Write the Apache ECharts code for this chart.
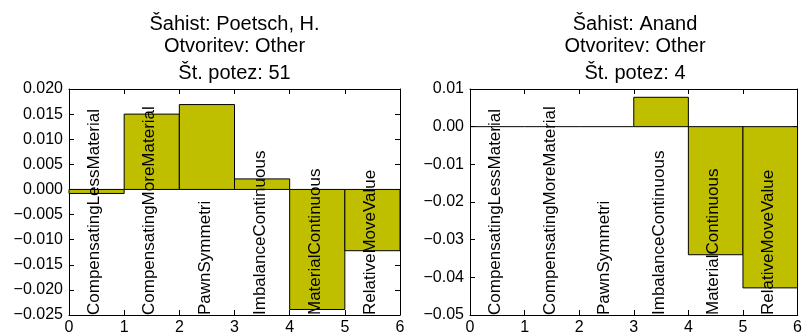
<!DOCTYPE html>
<html>
<head>
<meta charset="utf-8">
<script src="https://cdn.jsdelivr.net/npm/echarts@6/dist/echarts.min.js"></script>
<style>
  html, body { margin: 0; padding: 0; background: #fff; }
  #chart { width: 805px; height: 336px; }
</style>
</head>
<body>
<div id="chart"></div>
<script>
// Feature names, one bar per feature
const categories = [
  'CompensatingLessMaterial',
  'CompensatingMoreMaterial',
  'PawnSymmetri',
  'ImbalanceContinuous',
  'MaterialContinuous',
  'RelativeMoveValue'
];

// Per-feature values for each player
const poetschValues = [-0.0008, 0.0150, 0.0169, 0.0021, -0.0239, -0.0122];
const anandValues   = [0, 0, 0, 0.0078, -0.0340, -0.0428];

// Panel titles
const poetschTitle = ['Šahist: Poetsch, H.', 'Otvoritev: Other', 'Št. potez: 51'];
const anandTitle   = ['Šahist: Anand', 'Otvoritev: Other', 'Št. potez: 4'];

// Y axis ranges and tick steps
const poetschAxis = { min: -0.025, max: 0.020, step: 0.005, decimals: 3 };
const anandAxis   = { min: -0.05,  max: 0.01,  step: 0.01,  decimals: 2 };

const FONT = "'Liberation Sans', Arial, sans-serif";
const BAR_FILL = '#bfbf00';

const chart = echarts.init(document.getElementById('chart'), null, { renderer: 'canvas' });

const grids = [
  { left: 69,  top: 89, width: 331, height: 227 },
  { left: 470, top: 89, width: 330, height: 227 }
];

function fmt(v, d) {
  const s = Math.abs(v) < 1e-12 ? (0).toFixed(d) : v.toFixed(d);
  return s.replace('-', '\u2212');
}

function xAxes(gi) {
  const base = {
    type: 'value', gridIndex: gi, min: 0, max: 6, interval: 1,
    splitLine: { show: false },
    axisLine: { show: true, onZero: false, lineStyle: { color: '#000', width: 1 } },
    axisTick: { show: true, inside: true, length: 5, lineStyle: { color: '#000' } }
  };
  return [
    Object.assign({}, base, {
      position: 'bottom',
      axisLabel: { show: true, color: '#000', fontSize: 16, fontFamily: FONT, margin: 5 }
    }),
    Object.assign({}, base, { position: 'top', axisLabel: { show: false } })
  ];
}

function yAxes(gi, ax) {
  const base = {
    type: 'value', gridIndex: gi, min: ax.min, max: ax.max, interval: ax.step,
    splitLine: { show: false },
    axisLine: { show: true, onZero: false, lineStyle: { color: '#000', width: 1 } },
    axisTick: { show: true, inside: true, length: 5, lineStyle: { color: '#000' } }
  };
  return [
    Object.assign({}, base, {
      position: 'left',
      axisLabel: {
        show: true, color: '#000', fontSize: 16, fontFamily: FONT, margin: 6,
        formatter: v => fmt(v, ax.decimals)
      }
    }),
    Object.assign({}, base, { position: 'right', axisLabel: { show: false } })
  ];
}

function barSeries(gi, values) {
  return {
    type: 'custom',
    xAxisIndex: gi * 2, yAxisIndex: gi * 2,
    data: values.map((v, i) => [i, v]),
    renderItem: function (params, api) {
      const x0 = api.value(0);
      const v = api.value(1);
      const p0 = api.coord([x0, 0]);
      const p1 = api.coord([x0 + 1, v]);
      const y = Math.min(p0[1], p1[1]);
      const h = Math.abs(p1[1] - p0[1]);
      if (h < 0.5) {
        // zero-height bar: only its outline remains, a flat line on the baseline
        return {
          type: 'line',
          shape: { x1: p0[0], y1: p0[1], x2: p1[0], y2: p0[1] },
          style: { stroke: '#000', lineWidth: 1 }
        };
      }
      return {
        type: 'rect',
        shape: { x: p0[0], y: y, width: p1[0] - p0[0], height: h },
        style: { fill: BAR_FILL, stroke: '#000', lineWidth: 1 }
      };
    },
    z: 2
  };
}

function labelSeries(gi, ax) {
  return {
    type: 'custom',
    xAxisIndex: gi * 2, yAxisIndex: gi * 2,
    data: categories.map((c, i) => [i + 0.5, ax.min]),
    renderItem: function (params, api) {
      const p = api.coord([api.value(0), api.value(1)]);
      return {
        type: 'text',
        x: p[0] - 2,
        y: p[1],
        rotation: Math.PI / 2,
        style: {
          text: categories[params.dataIndex],
          fill: '#000',
          font: '17px ' + FONT,
          align: 'left',
          verticalAlign: 'middle'
        }
      };
    },
    z: 5
  };
}

function titleTexts(lines, cx) {
  const ys = [24, 46, 73];
  return lines.map((t, i) => ({
    type: 'text',
    x: cx, y: ys[i],
    style: {
      text: t, fill: '#000', font: '20px ' + FONT,
      align: 'center', verticalAlign: 'middle'
    }
  }));
}

chart.setOption({
  animation: false,
  backgroundColor: '#fff',
  grid: grids,
  xAxis: xAxes(0).concat(xAxes(1)),
  yAxis: yAxes(0, poetschAxis).concat(yAxes(1, anandAxis)),
  series: [
    barSeries(0, poetschValues),
    labelSeries(0, poetschAxis),
    barSeries(1, anandValues),
    labelSeries(1, anandAxis)
  ],
  graphic: titleTexts(poetschTitle, 69 + 331 / 2).concat(titleTexts(anandTitle, 470 + 330 / 2))
});
</script>
</body>
</html>
